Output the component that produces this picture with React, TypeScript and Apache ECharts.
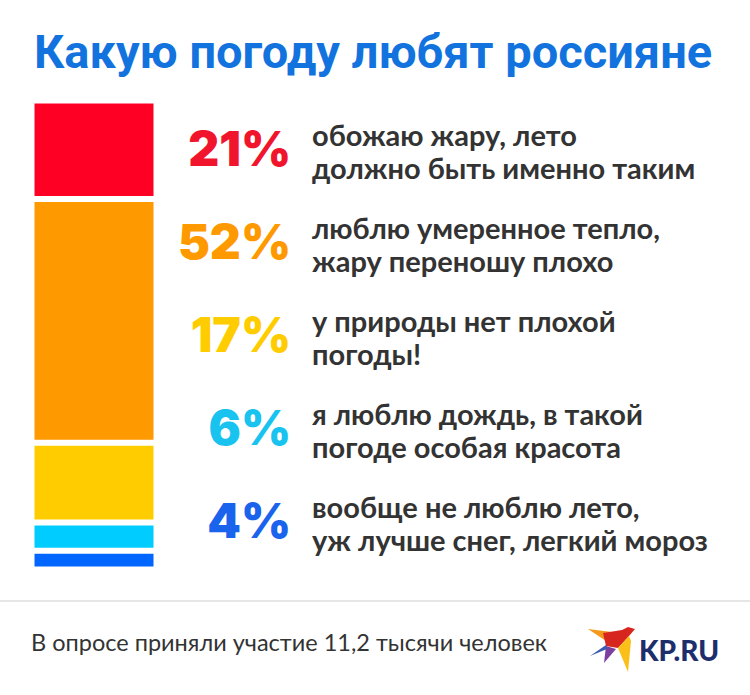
import React, { useEffect, useRef } from "react";
import * as echarts from "echarts";

const categories = ["опрос"];
const shares = [21, 52, 17, 6, 4];
const percentLabels = ["21%", "52%", "17%", "6%", "4%"];
const answers = [
  "обожаю жару, лето\nдолжно быть именно таким",
  "люблю умеренное тепло,\nжару переношу плохо",
  "у природы нет плохой\nпогоды!",
  "я люблю дождь, в такой\nпогоде особая красота",
  "вообще не люблю лето,\nуж лучше снег, легкий мороз",
];
const barColors = ["#fe0024", "#ff9900", "#ffcc00", "#00ccff", "#0066ff"];
const textColors = ["#f0142d", "#ff9900", "#ffcc00", "#19c3ef", "#1a63ec"];
const title = "Какую погоду любят россияне";
const footnote = "В опросе приняли участие 11,2 тысячи человек";

export default function App() {
  const ref = useRef<HTMLDivElement>(null);
  useEffect(() => {
    if (!ref.current) return;
    const chart = echarts.init(ref.current, null, { renderer: "svg" });
    const labelY0 = 148;
    const labelStep = 93;
    const graphics: any[] = [
      {
        type: "text",
        x: 34,
        y: 51,
        style: {
          text: title,
          fill: "#1273de",
          font: "bold 47px Roboto",
          verticalAlign: "middle",
        },
      },
      {
        type: "rect",
        shape: { x: 0, y: 600, width: 750, height: 2 },
        style: { fill: "#e6e6e6" },
      },
      {
        type: "text",
        x: 31,
        y: 642,
        style: {
          text: footnote,
          fill: "#333333",
          font: "23.5px Lato",
          verticalAlign: "middle",
        },
      },
      // logo bird
      { type: "polygon", shape: { points: [[588, 629], [612, 632], [606, 641]] }, style: { fill: "#f39a1c" } },
      { type: "polygon", shape: { points: [[603, 633], [622, 630], [628, 627], [635, 629], [629, 636], [618, 648], [606, 646]] }, style: { fill: "#d7261e" } },
      { type: "polygon", shape: { points: [[618, 648], [629, 636], [631, 641], [628, 672]] }, style: { fill: "#fbbf1a" } },
      { type: "polygon", shape: { points: [[606, 646], [616, 649], [604, 663]] }, style: { fill: "#7b3fa0" } },
      { type: "polygon", shape: { points: [[590, 656], [606, 645], [607, 649]] }, style: { fill: "#3c5bb0" } },
      {
        type: "text",
        x: 639,
        y: 650,
        style: {
          text: "KP.RU",
          fill: "#1c2e6b",
          font: "900 28px Lato",
          verticalAlign: "middle",
        },
      },
    ];
    percentLabels.forEach((p, i) => {
      const cy = labelY0 + i * labelStep;
      graphics.push({
        type: "text",
        x: 291,
        y: cy,
        style: {
          text: p,
          fill: textColors[i],
          font: "900 48px Inter",
          align: "right",
          verticalAlign: "middle",
        },
      });
      graphics.push({
        type: "text",
        x: 312,
        y: cy + 3,
        style: {
          text: answers[i],
          fill: "#333333",
          font: "bold 29px Lato",
          lineHeight: 33,
          align: "left",
          verticalAlign: "middle",
        },
      });
    });

    chart.setOption({
      animation: false,
      grid: { left: 31.5, top: 100.5, width: 125, height: 469 },
      xAxis: { type: "category", data: categories, show: false },
      yAxis: { type: "value", min: 0, max: 100, inverse: true, show: false },
      series: shares.map((v, i) => ({
        type: "bar",
        stack: "total",
        barWidth: "100%",
        data: [v],
        itemStyle: { color: barColors[i], borderColor: "#ffffff", borderWidth: 3 },
      })),
      graphic: graphics,
    });
    return () => chart.dispose();
  }, []);
  return (
    <div
      ref={ref}
      style={{ position: "fixed", left: 0, top: 0, width: 750, height: 695, background: "#ffffff" }}
    />
  );
}
